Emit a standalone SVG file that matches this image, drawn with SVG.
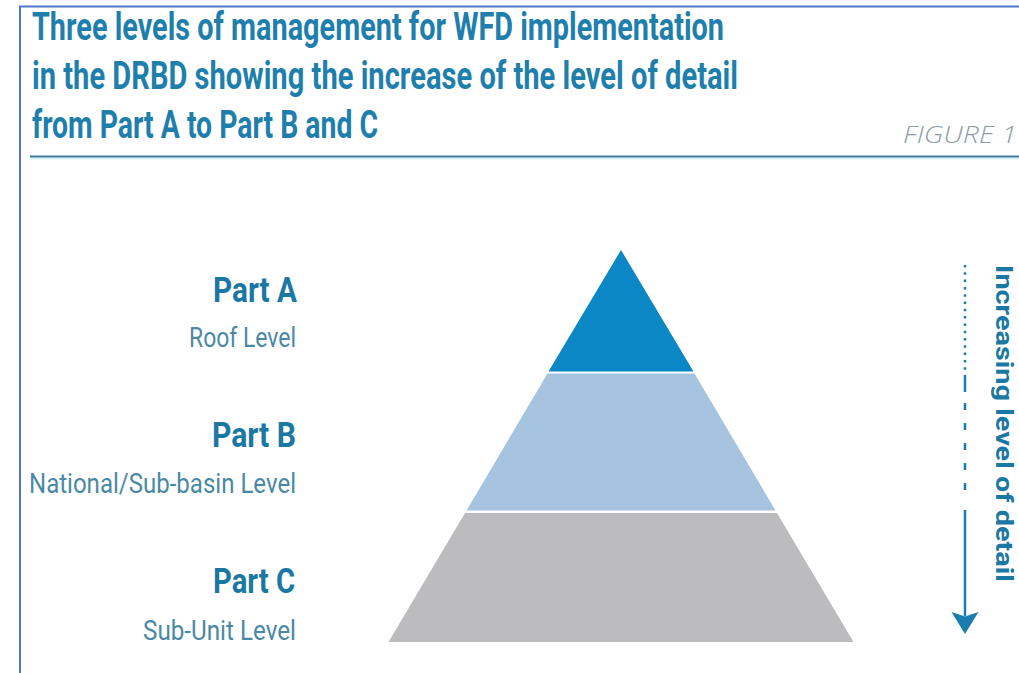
<svg xmlns="http://www.w3.org/2000/svg" width="1019" height="673" viewBox="0 0 1019 673">
  <style>
    .title { font-family: Roboto, "Liberation Sans", sans-serif; font-weight: 700; font-size: 38px; fill: #1f7fac; }
    .part { font-family: Roboto, "Liberation Sans", sans-serif; font-weight: 700; font-size: 35px; fill: #1b78a3; }
    .sub { font-family: Roboto, "Liberation Sans", sans-serif; font-weight: 400; font-size: 27px; fill: #4a89a5; }
    .fig { font-family: "Open Sans", "Liberation Sans", sans-serif; font-style: italic; font-weight: 300; font-size: 23px; fill: #8e9ca6; }
    .vert { font-family: Roboto, "Liberation Sans", sans-serif; font-weight: 700; font-size: 23px; fill: #1b78a3; }
    .axis { stroke: #1a7db0; stroke-width: 2.5; fill: none; }
  </style>
  <rect x="0" y="0" width="1019" height="673" fill="#ffffff"/>

  <!-- frame -->
  <g id="frame" stroke="#4f76c9" stroke-width="2" fill="none">
    <line x1="19" y1="6.5" x2="1019" y2="6.5"/>
    <line x1="20" y1="6" x2="20" y2="673"/>
  </g>

  <!-- header -->
  <g id="title">
    <text class="title" x="32" y="39.5" textLength="692" lengthAdjust="spacingAndGlyphs">Three levels of management for WFD implementation</text>
    <text class="title" x="32" y="88.5" textLength="706" lengthAdjust="spacingAndGlyphs">in the DRBD showing the increase of the level of detail</text>
    <text class="title" x="32" y="138" textLength="346" lengthAdjust="spacingAndGlyphs">from Part A to Part B and C</text>
  </g>
  <g id="figure-label">
    <text class="fig" x="903" y="143" textLength="114" lengthAdjust="spacingAndGlyphs">FIGURE 1</text>
  </g>
  <g id="header-rule">
    <line x1="30" y1="158.5" x2="1019" y2="158.5" stroke="#d6eef6" stroke-width="2"/>
    <line x1="30" y1="156.5" x2="1019" y2="156.5" stroke="#3f7f9a" stroke-width="2"/>
  </g>

  <!-- pyramid levels -->
  <g id="level-a">
    <polygon points="621,250 693.5,371.5 548.5,371.5" fill="#0a87c4"/>
    <text class="part" x="213" y="302" textLength="84" lengthAdjust="spacingAndGlyphs">Part A</text>
    <text class="sub" x="189" y="347" textLength="107" lengthAdjust="spacingAndGlyphs">Roof Level</text>
  </g>
  <g id="level-b">
    <polygon points="547.5,373.5 694.5,373.5 775.5,510.5 466.5,510.5" fill="#a6c3df"/>
    <text class="part" x="212" y="447" textLength="84" lengthAdjust="spacingAndGlyphs">Part B</text>
    <text class="sub" x="29" y="493" textLength="267" lengthAdjust="spacingAndGlyphs">National/Sub-basin Level</text>
  </g>
  <g id="level-c">
    <polygon points="465,513 777,513 853.5,642 388.5,642" fill="#bcbcbe"/>
    <text class="part" x="213" y="593" textLength="82" lengthAdjust="spacingAndGlyphs">Part C</text>
    <text class="sub" x="143" y="640" textLength="153" lengthAdjust="spacingAndGlyphs">Sub-Unit Level</text>
  </g>

  <!-- detail axis -->
  <g id="connectors">
    <line class="axis" x1="965" y1="265" x2="965" y2="372" stroke-dasharray="2.5 4.8" stroke-width="3"/>
    <line class="axis" x1="965" y1="375" x2="965" y2="392"/>
    <line class="axis" x1="965" y1="403" x2="965" y2="500" stroke-dasharray="7 13"/>
    <line class="axis" x1="965" y1="510" x2="965" y2="616"/>
    <path d="M951.5,612 L965,616.5 L978.5,612 L965,634 Z" fill="#1a7db0"/>
  </g>
  <g id="axis-label">
    <text class="vert" transform="translate(996,265) rotate(90)" x="0" y="0" textLength="317" lengthAdjust="spacingAndGlyphs">Increasing level of detail</text>
  </g>
</svg>
